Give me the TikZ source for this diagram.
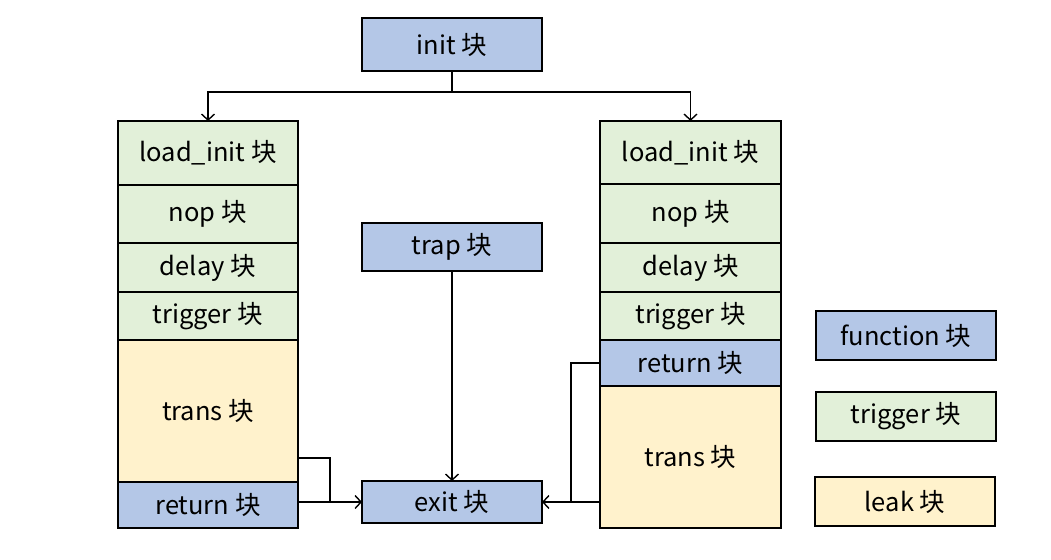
\documentclass[tikz,border=0pt]{standalone}
\usepackage{fontspec}
\setmainfont{Noto Sans CJK SC}
\usetikzlibrary{arrows.meta}
\definecolor{fblue}{HTML}{B4C7E7}
\definecolor{tgreen}{HTML}{E2F0D9}
\definecolor{lyellow}{HTML}{FFF2CC}
\begin{document}
\begin{tikzpicture}[x=1pt,y=-1pt,
  blk/.style={draw=black,line width=1.6pt,inner sep=0pt,outer sep=0pt,font=\fontsize{25.5}{30}\selectfont},
  fn/.style={blk,fill=fblue},
  tg/.style={blk,fill=tgreen},
  lk/.style={blk,fill=lyellow},
  conn/.style={line width=1.4pt},
  arr/.style={conn,-{Straight Barb[length=6pt,width=13pt,line width=1.4pt]}}]
\useasboundingbox (0,0) rectangle (1051,559);
% top
\node[fn,minimum width=180pt,minimum height=53pt] (init) at (452,44.5) {init 块};
\node[fn,minimum width=180pt,minimum height=48pt] (trap) at (452,247) {trap 块};
\node[fn,minimum width=180pt,minimum height=42pt] (exit) at (452,502) {exit 块};
% left column
\node[tg,minimum width=180pt,minimum height=64pt] (lli) at (208,153) {load\_init 块};
\node[tg,minimum width=180pt,minimum height=58pt] (lnop) at (208,214) {nop 块};
\node[tg,minimum width=180pt,minimum height=49pt] (ldel) at (208,267.5) {delay 块};
\node[tg,minimum width=180pt,minimum height=48pt] (ltrg) at (208,316) {trigger 块};
\node[lk,minimum width=180pt,minimum height=142pt] (ltr) at (208,411) {trans 块};
\node[fn,minimum width=180pt,minimum height=46pt] (lret) at (208,505) {return 块};
% right column
\node[tg,minimum width=181pt,minimum height=63pt] (rli) at (690.5,152.5) {load\_init 块};
\node[tg,minimum width=181pt,minimum height=59pt] (rnop) at (690.5,213.5) {nop 块};
\node[tg,minimum width=181pt,minimum height=49pt] (rdel) at (690.5,267.5) {delay 块};
\node[tg,minimum width=181pt,minimum height=48pt] (rtrg) at (690.5,316) {trigger 块};
\node[fn,minimum width=181pt,minimum height=46pt] (rret) at (690.5,363) {return 块};
\node[lk,minimum width=181pt,minimum height=142pt] (rtr) at (690.5,457) {trans 块};
% legend
\node[fn,minimum width=180pt,minimum height=49pt] (lgf) at (906,335.5) {function 块};
\node[tg,minimum width=180pt,minimum height=49pt] (lgt) at (906,416.5) {trigger 块};
\node[lk,minimum width=180pt,minimum height=49pt] (lgl) at (905,501.5) {leak 块};
% connectors
\coordinate (split) at (452,92);
\draw[conn] (init.south) -- (split);
\draw[arr] (split) -| (lli.north);
\draw[arr] (split) -| (rli.north);
\draw[arr] (trap.south) -- (exit.north);
\draw[conn] ([yshift=-47pt]ltr.east) -- ++(32,0) |- (exit.west);
\draw[arr] (lret.east |- exit.west) -- (exit.west);
\draw[conn] (rret.west) -- ++(-29,0) |- (exit.east);
\draw[arr] (rtr.west |- exit.east) -- (exit.east);
\end{tikzpicture}
\end{document}
